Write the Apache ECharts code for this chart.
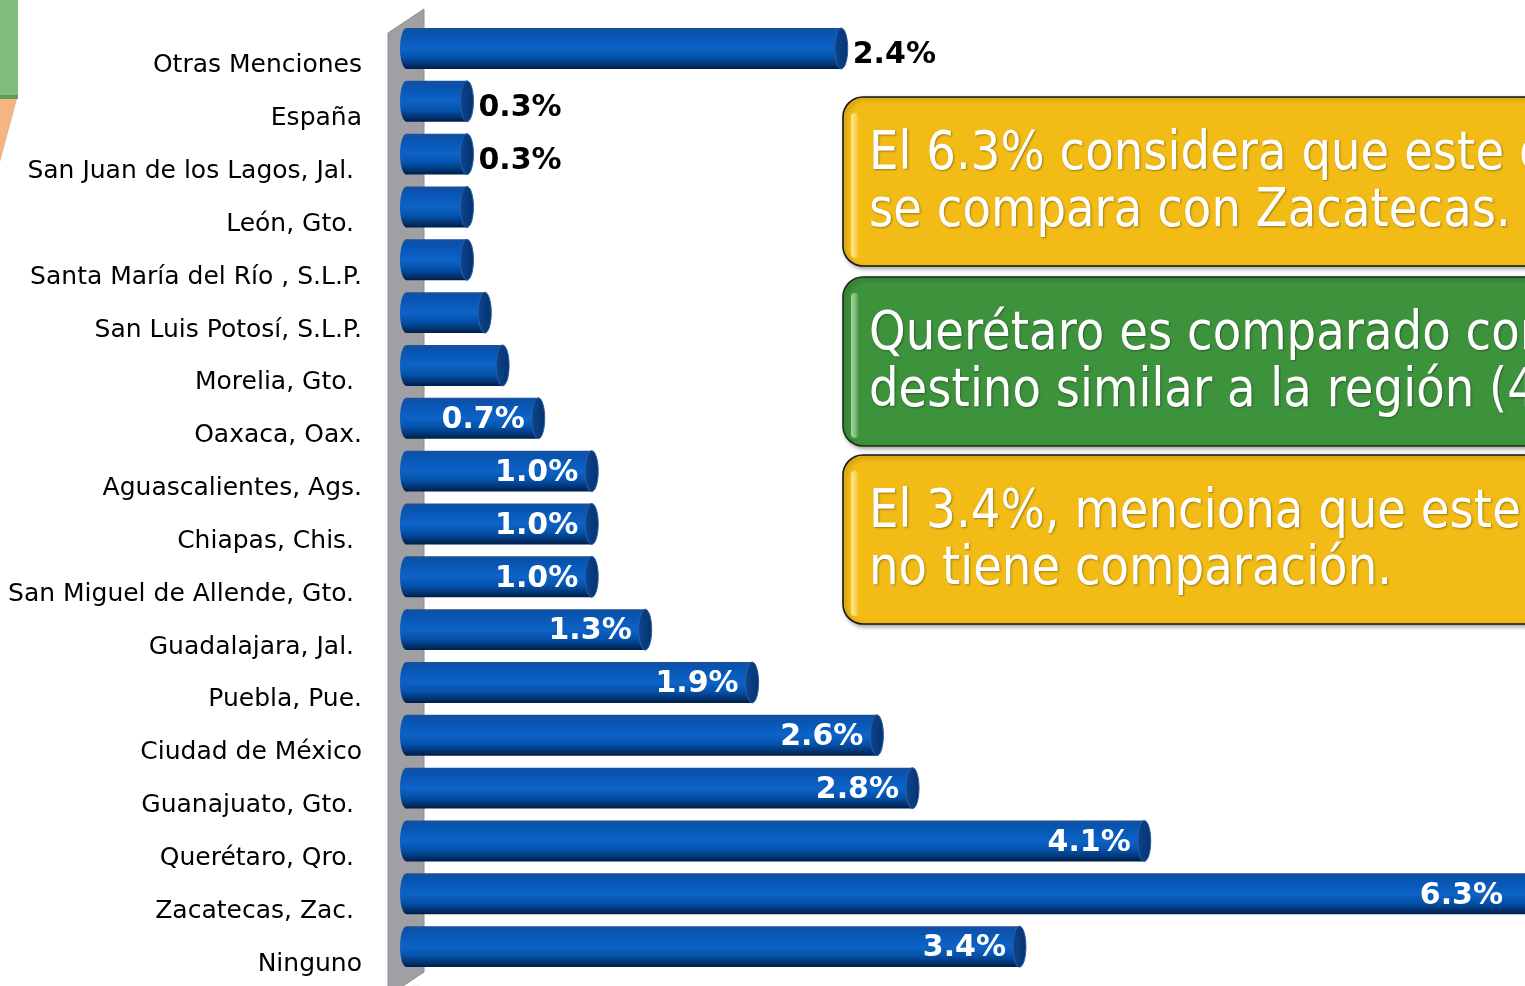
<!DOCTYPE html>
<html>
<head>
<meta charset="utf-8">
<script src="https://cdn.jsdelivr.net/npm/echarts@6/dist/echarts.min.js"></script>
<style>
html,body{margin:0;padding:0;background:#fff;}
#chart{width:1525px;height:986px;}
</style>
</head>
<body>
<div id="chart"></div>
<script>
// ---- data ----
const categories = [
  'Otras Menciones',
  'España',
  'San Juan de los Lagos, Jal. ',
  'León, Gto. ',
  'Santa María del Río , S.L.P.',
  'San Luis Potosí, S.L.P.',
  'Morelia, Gto. ',
  'Oaxaca, Oax.',
  'Aguascalientes, Ags.',
  'Chiapas, Chis. ',
  'San Miguel de Allende, Gto. ',
  'Guadalajara, Jal. ',
  'Puebla, Pue.',
  'Ciudad de México',
  'Guanajuato, Gto. ',
  'Querétaro, Qro. ',
  'Zacatecas, Zac. ',
  'Ninguno'
];
const values = [2.4, 0.3, 0.3, 0.3, 0.3, 0.4, 0.5, 0.7, 1.0, 1.0, 1.0, 1.3, 1.9, 2.6, 2.8, 4.1, 6.3, 3.4];
const unlabeled = ['León, Gto. ', 'Santa María del Río , S.L.P.', 'San Luis Potosí, S.L.P.', 'Morelia, Gto. '];
const outsideLabeled = ['Otras Menciones', 'España', 'San Juan de los Lagos, Jal. '];

const callout1 = ['El 6.3% considera que este destino', 'se compara con Zacatecas.'];
const callout2 = ['Querétaro es comparado con un', 'destino similar a la región (4.1%).'];
const callout3 = ['El 3.4%, menciona que este destino', 'no tiene comparación.'];

// ---- chart ----
const chart = echarts.init(document.getElementById('chart'), null, {renderer: 'canvas'});

const bodyGrad = () => new echarts.graphic.LinearGradient(0, 0, 0, 1, [
  {offset: 0, color: '#1a4f98'},
  {offset: 0.12, color: '#0753b0'},
  {offset: 0.5, color: '#0d63c6'},
  {offset: 0.72, color: '#0452aa'},
  {offset: 0.9, color: '#02326f'},
  {offset: 1, color: '#001c44'}
]);
const capGrad = () => new echarts.graphic.LinearGradient(0, 0, 1, 0, [
  {offset: 0, color: '#0c4590'},
  {offset: 1, color: '#06326c'}
]);

function calloutBox(y, fill, stroke, lines, highlight) {
  return [
    {
      type: 'rect', z: 50,
      shape: {x: 843, y: y, width: 760, height: 169, r: 20},
      style: {fill: fill, stroke: stroke, lineWidth: 1.6,
        shadowBlur: 4, shadowColor: 'rgba(0,0,0,0.35)', shadowOffsetX: 2, shadowOffsetY: 2}
    },
    {
      type: 'rect', z: 51,
      shape: {x: 851, y: y + 16, width: 8, height: 145, r: 4},
      style: {fill: new echarts.graphic.LinearGradient(0, 0, 1, 0, [
        {offset: 0, color: highlight},
        {offset: 1, color: 'rgba(255,255,255,0)'}
      ])}
    },
    {
      type: 'text', z: 52,
      x: 869, y: y + 30, scaleX: 0.88,
      style: {
        text: lines.join('\n'),
        font: '53px "DejaVu Sans"',
        lineHeight: 57,
        fill: '#ffffff',
        verticalAlign: 'top',
        align: 'left',
        textShadowColor: 'rgba(0,0,0,0.35)', textShadowBlur: 2, textShadowOffsetX: 1, textShadowOffsetY: 1
      }
    }
  ];
}

const option = {
  backgroundColor: '#ffffff',
  animation: false,
  grid: {left: 420, top: 35, right: 0, height: 954, containLabel: false},
  xAxis: {type: 'value', min: 0, max: 6.2, show: false},
  yAxis: {
    type: 'category',
    data: categories,
    inverse: true,
    offset: 33,
    axisLine: {show: false},
    axisTick: {show: true, length: 8, lineStyle: {color: '#8c8c8c', width: 1.2}},
    axisLabel: {
      margin: 25, align: 'right',
      formatter: function (v) { return '{a|' + v + '}'; },
      rich: {a: {fontFamily: 'DejaVu Sans', fontSize: 25, color: '#000', padding: [9, 0, 0, 0]}}
    },
    splitLine: {show: false}
  },
  graphic: [
    // decoration top-left
    {type: 'rect', z: 1, shape: {x: 0, y: 0, width: 18, height: 95}, style: {fill: '#7fbf7b'}},
    {type: 'rect', z: 1, shape: {x: 0, y: 95, width: 18, height: 4}, style: {fill: '#5f9c58'}},
    {type: 'polygon', z: 1, shape: {points: [[0, 99], [17, 99], [0, 162]]}, style: {fill: '#f3b583'}},
    // 3D wall
    {type: 'polygon', z: 1, shape: {points: [[388, 33], [424, 9], [424, 972], [388, 996]]},
      style: {fill: '#a0a0a4', stroke: '#8e8e92', lineWidth: 1}},
    ...calloutBox(97, '#f2bb15', '#151515', callout1, 'rgba(255,236,130,0.95)'),
    ...calloutBox(277, '#3d923c', '#1b2e1b', callout2, 'rgba(170,220,160,0.9)'),
    ...calloutBox(455, '#f2bb15', '#151515', callout3, 'rgba(255,236,130,0.95)')
  ],
  series: [{
    type: 'custom',
    z: 10,
    clip: false,
    encode: {x: 0, y: 1},
    data: values.map((v, i) => [v, i]),
    renderItem: function (params, api) {
      const v = api.value(0);
      const idx = api.value(1);
      const end = api.coord([v, idx]);
      const start = api.coord([0, idx]);
      const band = api.size([0, 1])[1];
      const h = band * 0.775;
      const cy = end[1] - band * 0.245;
      const x0 = start[0] - 20;
      const x1 = end[0];
      const rx = 6.5;
      const cat = categories[idx];
      const children = [
        {type: 'ellipse', shape: {cx: x0 + rx, cy: cy, rx: rx, ry: h / 2}, style: {fill: bodyGrad()}},
        {type: 'rect', shape: {x: x0 + rx, y: cy - h / 2, width: Math.max(0, x1 - rx - (x0 + rx)), height: h},
          style: {fill: bodyGrad()}},
        {type: 'ellipse', shape: {cx: x1 - rx, cy: cy, rx: rx, ry: h / 2},
          style: {fill: capGrad(), stroke: '#2d5fa6', lineWidth: 1}}
      ];
      if (unlabeled.indexOf(cat) < 0) {
        const txt = v.toFixed(1) + '%';
        if (outsideLabeled.indexOf(cat) >= 0) {
          children.push({type: 'text', style: {text: txt, x: x1 + 5, y: cy + 7, align: 'left', verticalAlign: 'middle',
            fill: '#000', font: 'bold 30px "DejaVu Sans"'}});
        } else {
          const lx = Math.min(x1 - 20, api.getWidth() - 22);
          children.push({type: 'text', style: {text: txt, x: lx, y: cy + 2, align: 'right', verticalAlign: 'middle',
            fill: '#fff', font: 'bold 30px "DejaVu Sans"'}});
        }
      }
      return {type: 'group', children: children};
    }
  }]
};
chart.setOption(option);
</script>
</body>
</html>
